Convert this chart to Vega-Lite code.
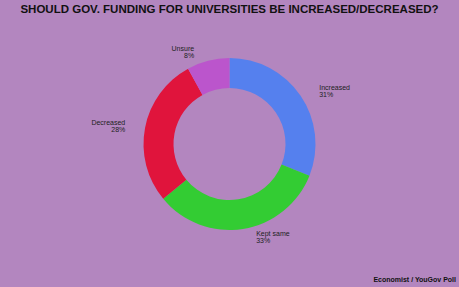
{
  "$schema": "https://vega.github.io/schema/vega-lite/v6.json",
  "background": "#B386BF",
  "padding": {"top": 3, "left": 0, "right": 0, "bottom": 4},
  "autosize": {"type": "pad"},
  "title": {"text": "SHOULD GOV. FUNDING FOR UNIVERSITIES BE INCREASED/DECREASED?", "font": "Liberation Sans", "fontSize": 11.5, "fontWeight": "bold", "color": "#111111", "anchor": "middle", "offset": 5},
  "config": {"view": {"stroke": null}, "concat": {"spacing": 0}},
  "vconcat": [
    {
      "width": 459,
      "height": 248,
      "title": {"text": "Economist / YouGov Poll", "orient": "bottom", "anchor": "end", "font": "Liberation Sans", "fontSize": 7, "fontWeight": "bold", "color": "#111111", "offset": 8, "dx": -3},
      "data": {"values": [
        {"cat": "Increased", "value": 0.31},
        {"cat": "Kept same", "value": 0.33},
        {"cat": "Decreased", "value": 0.28},
        {"cat": "Unsure", "value": 0.08}
      ]},
      "transform": [{"window": [{"op": "row_number", "as": "rank"}]}],
      "encoding": {
        "theta": {"field": "value", "type": "quantitative", "stack": true},
        "order": {"field": "rank", "type": "quantitative"}
      },
      "layer": [
        {
          "mark": {"type": "arc", "innerRadius": 56, "outerRadius": 86},
          "encoding": {
            "color": {"field": "cat", "type": "nominal", "legend": null,
              "scale": {"domain": ["Increased", "Kept same", "Decreased", "Unsure"], "range": ["#5580EE", "#33CC33", "#E0143C", "#BB55CC"]}}
          }
        },
        {
          "mark": {"type": "text", "radius": 100, "align": "left", "baseline": "middle", "dx": 7, "dy": 0, "font": "Liberation Sans", "fontSize": 7, "color": "#222222"},
          "encoding": {"detail": {"field": "cat"}, "text": {"condition": {"test": "datum.cat === 'Increased'", "field": "cat"}, "value": ""}}
        },
        {
          "mark": {"type": "text", "radius": 100, "align": "left", "baseline": "middle", "dx": 7, "dy": 7, "font": "Liberation Sans", "fontSize": 7, "color": "#222222"},
          "encoding": {"detail": {"field": "cat"}, "text": {"condition": {"test": "datum.cat === 'Increased'", "field": "value", "type": "quantitative", "format": ".0%"}, "value": ""}}
        },
        {
          "mark": {"type": "text", "radius": 100, "align": "left", "baseline": "middle", "dx": 11, "dy": -9, "font": "Liberation Sans", "fontSize": 7, "color": "#222222"},
          "encoding": {"detail": {"field": "cat"}, "text": {"condition": {"test": "datum.cat === 'Kept same'", "field": "cat"}, "value": ""}}
        },
        {
          "mark": {"type": "text", "radius": 100, "align": "left", "baseline": "middle", "dx": 11, "dy": -2, "font": "Liberation Sans", "fontSize": 7, "color": "#222222"},
          "encoding": {"detail": {"field": "cat"}, "text": {"condition": {"test": "datum.cat === 'Kept same'", "field": "value", "type": "quantitative", "format": ".0%"}, "value": ""}}
        },
        {
          "mark": {"type": "text", "radius": 100, "align": "right", "baseline": "middle", "dx": -6, "dy": -2.5, "font": "Liberation Sans", "fontSize": 7, "color": "#222222"},
          "encoding": {"detail": {"field": "cat"}, "text": {"condition": {"test": "datum.cat === 'Decreased'", "field": "cat"}, "value": ""}}
        },
        {
          "mark": {"type": "text", "radius": 100, "align": "right", "baseline": "middle", "dx": -6, "dy": 4.5, "font": "Liberation Sans", "fontSize": 7, "color": "#222222"},
          "encoding": {"detail": {"field": "cat"}, "text": {"condition": {"test": "datum.cat === 'Decreased'", "field": "value", "type": "quantitative", "format": ".0%"}, "value": ""}}
        },
        {
          "mark": {"type": "text", "radius": 100, "align": "right", "baseline": "middle", "dx": -10.5, "dy": 2, "font": "Liberation Sans", "fontSize": 7, "color": "#222222"},
          "encoding": {"detail": {"field": "cat"}, "text": {"condition": {"test": "datum.cat === 'Unsure'", "field": "cat"}, "value": ""}}
        },
        {
          "mark": {"type": "text", "radius": 100, "align": "right", "baseline": "middle", "dx": -10.5, "dy": 9, "font": "Liberation Sans", "fontSize": 7, "color": "#222222"},
          "encoding": {"detail": {"field": "cat"}, "text": {"condition": {"test": "datum.cat === 'Unsure'", "field": "value", "type": "quantitative", "format": ".0%"}, "value": ""}}
        }
      ]
    }
  ]
}
